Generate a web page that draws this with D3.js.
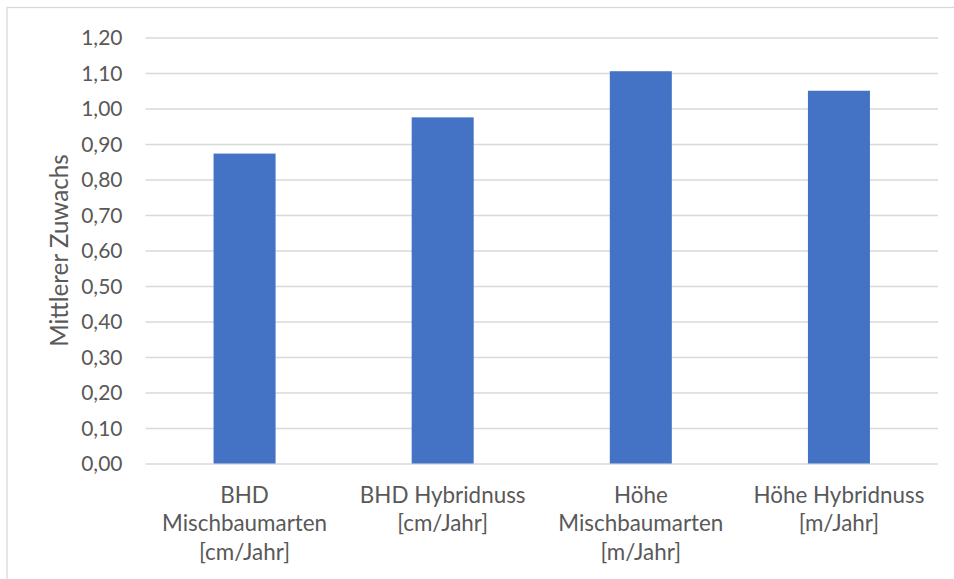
<!DOCTYPE html>
<html>
<head>
<meta charset="utf-8">
<script src="https://cdn.jsdelivr.net/npm/d3@7"></script>
<style>
  body { margin: 0; background: #fff; }
  text { font-family: Lato, "Open Sans", sans-serif; fill: #595959; }
</style>
</head>
<body>
<script>
// data
var categories = [
    "BHD\nMischbaumarten\n[cm/Jahr]",
    "BHD Hybridnuss\n[cm/Jahr]",
    "Höhe\nMischbaumarten\n[m/Jahr]",
    "Höhe Hybridnuss\n[m/Jahr]"
];
var values = [0.873, 0.975, 1.105, 1.050];
var yTicks = [0, 0.1, 0.2, 0.3, 0.4, 0.5, 0.6, 0.7, 0.8, 0.9, 1.0, 1.1, 1.2];
var yTitle = "Mittlerer Zuwachs";

var width = 954,
    height = 579,
    margin = {top: 37.5, right: 16, bottom: 115.5, left: 145.5};

var de = d3.formatLocale({decimal: ",", thousands: ".", grouping: [3], currency: ["", " €"]});
var fmt = de.format(".2f");

var svg = d3.select("body").append("svg")
    .attr("width", width)
    .attr("height", height);

// chart frame (runs off the right and bottom edge like the original)
svg.append("rect")
    .attr("x", 7).attr("y", 7.5)
    .attr("width", 980).attr("height", 620)
    .attr("fill", "none")
    .attr("stroke", "#d9d9d9")
    .attr("stroke-width", 1.3);

var x = d3.scaleBand()
    .domain(categories)
    .range([margin.left, width - margin.right])
    .paddingInner(0.687)
    .paddingOuter(0.3435);

var y = d3.scaleLinear()
    .domain([0, 1.2])
    .range([height - margin.bottom, margin.top]);

// gridlines + tick labels
var yAxis = svg.append("g")
    .attr("transform", "translate(" + margin.left + ",0)")
    .call(d3.axisLeft(y)
        .tickValues(yTicks)
        .tickFormat(fmt)
        .tickSize(-(width - margin.right - margin.left))
        .tickPadding(23));
yAxis.select(".domain").remove();
yAxis.selectAll(".tick line")
    .attr("stroke", "#d9d9d9")
    .attr("stroke-width", 1.3);
yAxis.selectAll(".tick text")
    .attr("font-size", "21px")
    .attr("dy", "0.34em")
    .style("fill", "#595959");

// bars
svg.selectAll("rect.bar")
    .data(values)
    .enter().append("rect")
    .attr("class", "bar")
    .attr("x", function(d, i) { return x(categories[i]); })
    .attr("width", x.bandwidth())
    .attr("y", function(d) { return y(d); })
    .attr("height", function(d) { return y(0) - y(d); })
    .attr("fill", "#4472c4");

// category labels, one tspan per line
var labels = svg.append("g").selectAll("text")
    .data(categories)
    .enter().append("text")
    .attr("text-anchor", "middle")
    .attr("font-size", "22.4px")
    .attr("transform", function(d) {
        return "translate(" + (x(d) + x.bandwidth() / 2) + "," + (y(0) + 39) + ")";
    });
labels.selectAll("tspan")
    .data(function(d) { return d.split("\n"); })
    .enter().append("tspan")
    .attr("x", 0)
    .attr("y", function(d, i) { return i * 28.8; })
    .text(function(d) { return d; });

// y axis title
svg.append("text")
    .attr("transform", "translate(67.5," + (y(0) + y(1.2)) / 2 + ") rotate(-90)")
    .attr("text-anchor", "middle")
    .attr("font-size", "24.2px")
    .text(yTitle);
</script>
</body>
</html>
